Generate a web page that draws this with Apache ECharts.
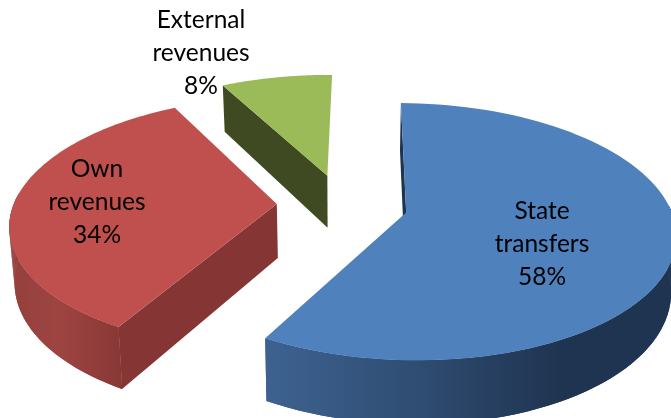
<!doctype html><html><head><meta charset="utf-8"><style>html,body{margin:0;background:#fff}#c{width:671px;height:418px}</style>
<script src="https://cdn.jsdelivr.net/npm/echarts@6/dist/echarts.min.js"></script></head><body><div id="c"></div><script>
var categories=['State transfers','Own revenues','External revenues'];
var shares=[58,34,8];
var total=shares.reduce(function(a,b){return a+b},0);

// Styling and projection of the tilted, exploded disc
var topColors=['#4f81bd','#c0504d','#9bbb59'];
var innerColors=['#1f3450','#853533','#3f4a22'];
var wallStops=[
 [[268,'#3d6290'],[420,'#2f4c72'],[560,'#1f3450'],[671,'#1f3450']],
 [[10,'#94403d'],[60,'#9e4441'],[124,'#873735']],
 [[225,'#3f4a22'],[330,'#3f4a22']]
];
var labelAt=[[542,244],[97,202],[201,53]];
var view={vx:342.3,y0:204.5,a:263.2,b:123.4,k:0.147,start:0.74,explode:0.249,depth:54,shrink:0.984};
var RAD=Math.PI/180;

function project(mid,r,t,down){
  var U=view.explode*Math.sin(mid*RAD)+r*Math.sin(t*RAD);
  var V=view.explode*Math.cos(mid*RAD)+r*Math.cos(t*RAD);
  var w=1+view.k*V;
  var x=view.vx+view.a*U/w, y=view.y0-view.b*V/w;
  if(down){x=view.vx+(x-view.vx)*view.shrink;y+=view.depth/w;}
  return [x,y];
}
function renderSlice(params,api){
  var i=params.dataIndex, before=0;
  for(var n=0;n<i;n++)before+=shares[n];
  var value=api.value(0);
  var t0=view.start+before/total*360, t1=t0+value/total*360, mid=(t0+t1)/2;
  var rim=[],low=[],frontRim=[],frontLow=[],steps=90;
  for(var s=0;s<=steps;s++){
    var t=t0+(t1-t0)*s/steps;
    var a=project(mid,1,t,false), b=project(mid,1,t,true);
    rim.push(a);low.push(b);
    if(Math.cos(t*RAD)<0.1){frontRim.push(a);frontLow.push(b);}
  }
  var apex=project(mid,0,mid,false), apexLow=project(mid,0,mid,true);
  var stops=wallStops[i], x0=stops[0][0], x1=stops[stops.length-1][0];
  var wallFill={type:'linear',global:true,x:x0,y:0,x2:x1,y2:0,colorStops:stops.map(function(c){return{offset:(c[0]-x0)/(x1-x0),color:c[1]}})};
  var lines=categories[i].split(' ').concat([value+'%']);
  var kids=[];
  if(frontRim.length>1){
    kids.push({type:'polygon',shape:{points:frontRim.concat(frontLow.slice().reverse())},style:{fill:wallFill}});
    for(var q=0;q<frontRim.length-1;q++){
      kids.push({type:'polygon',shape:{points:[frontRim[q],frontRim[q+1],frontLow[q+1],frontLow[q]]},style:{fill:wallFill}});
    }
  }
  kids.push({type:'polygon',shape:{points:[apex,rim[0],low[0],apexLow]},style:{fill:innerColors[i]}});
  kids.push({type:'polygon',shape:{points:[apex].concat(rim)},style:{fill:topColors[i]}});
  kids.push({type:'text',x:labelAt[i][0],y:labelAt[i][1],style:{text:lines.join('\n'),fill:'#000',font:'24.5px Lato',lineHeight:33,align:'center',verticalAlign:'middle'}});
  return {type:'group',children:kids};
}
var chart=echarts.init(document.getElementById('c'),null,{renderer:'canvas'});
chart.setOption({animation:false,series:[{type:'custom',coordinateSystem:'none',renderItem:renderSlice,
  data:shares.map(function(v,i){return{name:categories[i],value:[v]}})}]});
</script></body></html>
